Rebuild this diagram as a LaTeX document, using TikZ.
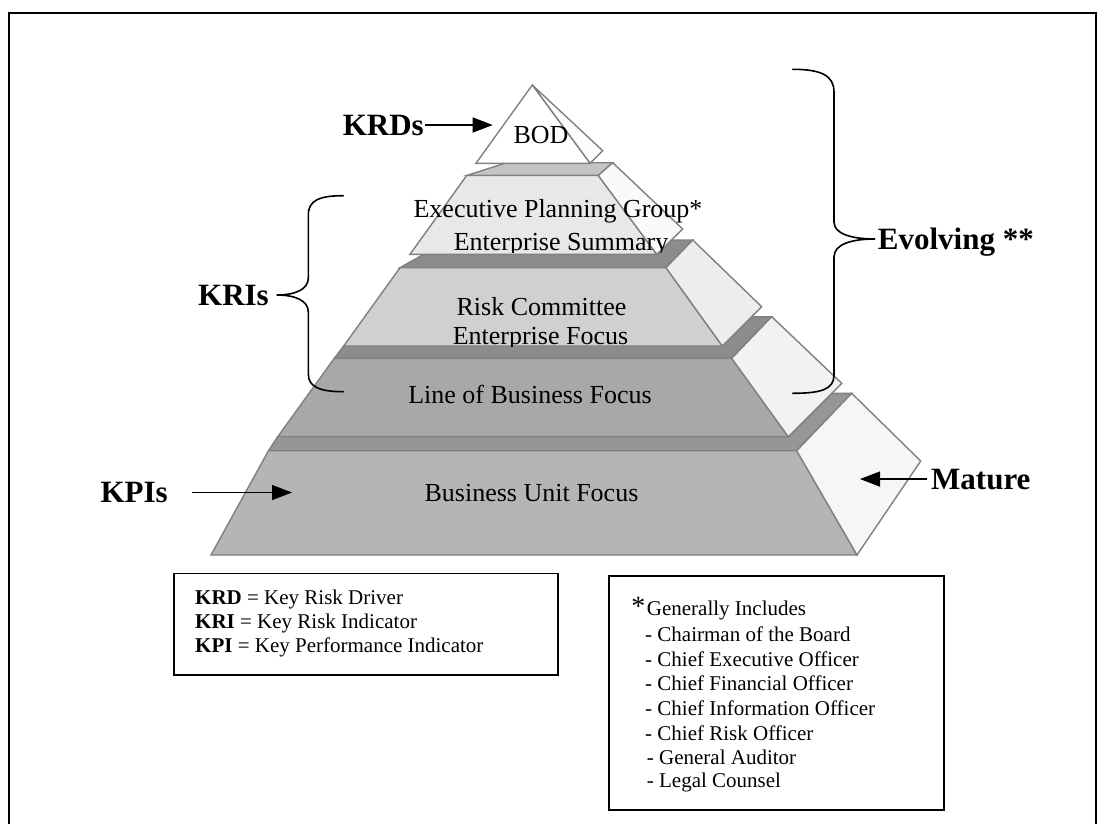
\documentclass[tikz,border=0pt]{standalone}
\usepackage{fontspec}
\setmainfont{Liberation Serif}
\usetikzlibrary{arrows.meta}
\definecolor{edgegray}{HTML}{808080}
\definecolor{fA}{HTML}{FFFFFF}
\definecolor{sA}{HTML}{FCFCFC}
\definecolor{fB}{HTML}{E8E8E8}
\definecolor{tB}{HTML}{C4C4C4}
\definecolor{sB}{HTML}{FAFAFA}
\definecolor{fC}{HTML}{D0D0D0}
\definecolor{tC}{HTML}{8C8C8C}
\definecolor{sC}{HTML}{EDEDED}
\definecolor{fD}{HTML}{A8A8A8}
\definecolor{tD}{HTML}{8C8C8C}
\definecolor{sD}{HTML}{F2F2F2}
\definecolor{fE}{HTML}{B5B5B5}
\definecolor{tE}{HTML}{969696}
\definecolor{sE}{HTML}{F6F6F6}
\begin{document}
\begin{tikzpicture}[x=1pt,y=-1pt,
  face/.style={draw=edgegray, line width=1.4pt, line join=miter},
  lbl/.style={font=\fontsize{31}{36}\selectfont\bfseries, inner sep=0pt},
  tiertext/.style={font=\fontsize{26}{30}\selectfont, inner sep=0pt, anchor=base},
  legendtext/.style={font=\fontsize{21}{24}\selectfont, inner sep=0pt, anchor=base west},
  pointer/.style={line width=1.5pt, -{Triangle[length=20pt,width=15pt]}},
  bracepath/.style={line width=1.6pt, line cap=round},
  legendbox/.style={draw=black, line width=1.6pt, inner sep=0pt, anchor=north west}]
\useasboundingbox (0,0) rectangle (1109,823);
\fill[white] (0,0) rectangle (1109,823);
% outer frame
\draw[line width=2pt] (9.3,835) -- (9.3,13.3) -- (1096,13.3) -- (1096,835);

% ---- tier 5 (Business Unit)
\filldraw[face, fill=tE] (268.5,450.7) -- (796.7,450.7) -- (851.7,393.3) -- (800,393.3) -- (300,420) -- (277.7,436.7) -- cycle;
\filldraw[face, fill=fE] (268.5,450.7) -- (796.7,450.7) -- (857,555) -- (211,555) -- cycle;
\filldraw[face, fill=sE] (796.7,450.7) -- (851.7,393.3) -- (920.7,461) -- (857,555) -- cycle;
\node[tiertext] (t5) at (531.5,501) {Business Unit Focus};

% ---- tier 4 (Line of Business)
\filldraw[face, fill=tD] (334.3,358.3) -- (731.7,358.3) -- (771.7,316.7) -- (740,316.7) -- (380,330) -- (343.7,346) -- cycle;
\filldraw[face, fill=fD] (334.3,358.3) -- (731.7,358.3) -- (788.3,436.7) -- (277.7,436.7) -- cycle;
\filldraw[face, fill=sD] (731.7,358.3) -- (771.7,316.7) -- (841.7,383.3) -- (788.3,436.7) -- cycle;
\node[tiertext] (t4) at (530,403) {Line of Business Focus};

% ---- tier 3 (Risk Committee)
\filldraw[face, fill=tC] (400,267.7) -- (666,267.7) -- (692.7,240) -- (640,240) -- (440,245) -- cycle;
\filldraw[face, fill=fC] (400,267.7) -- (666,267.7) -- (722.3,346) -- (343.7,346) -- cycle;
\filldraw[face, fill=sC] (666,267.7) -- (692.7,240) -- (761.7,306.7) -- (722.3,346) -- cycle;
\node[tiertext] (t3a) at (541.5,315.5) {Risk Committee};
\begin{scope}
  \clip (300,320) rectangle (800,346);
  \node[tiertext] (t3b) at (540.5,344.5) {Enterprise Focus};
\end{scope}

% ---- tier 2 (Executive Planning Group)
\filldraw[face, fill=tB] (466.7,175.5) -- (598.3,175.5) -- (612.7,162.7) -- (506.7,162.7) -- cycle;
\filldraw[face, fill=fB] (466.7,175.5) -- (598.3,175.5) -- (656.7,254.3) -- (410,254.3) -- cycle;
\filldraw[face, fill=sB] (598.3,175.5) -- (612.7,162.7) -- (682.7,229) -- (656.7,254.3) -- cycle;
\node[tiertext] (t2a) at (558,217) {Executive Planning Group*};
\begin{scope}
  \clip (380,222) rectangle (760,252);
  \node[tiertext] (t2b) at (561,250) {Enterprise Summary};
\end{scope}

% ---- tier 1 (BOD)
\filldraw[face, fill=sA] (532.3,85) -- (602.7,150.7) -- (590,163.3) -- cycle;
\filldraw[face, fill=fA] (532.3,85) -- (590,163.3) -- (476,163.3) -- cycle;
\node[tiertext] (t1) at (541,143.3) {BOD};

% ---- labels and arrows
\node[lbl, anchor=base east] (krd) at (424,135) {KRDs};
\coordinate (krdtip) at (492.7,126);
\draw[pointer] ([xshift=1pt]krd.east) -- (krd.east -| krdtip);

\node[lbl, anchor=base east] (kpi) at (168,502.5) {KPIs};
\coordinate (kpitip) at (292,492);
\draw[pointer] ([xshift=24pt]kpi.east) -- (kpi.east -| kpitip);

\node[lbl, anchor=base west] (mature) at (931,489) {Mature};
\coordinate (maturetip) at (860,478);
\draw[pointer] ([xshift=-4pt]mature.west) -- (mature.west -| maturetip);

% KRIs brace
\node[lbl, anchor=base east] (kri) at (269,305) {KRIs};
\coordinate (kriTop) at (343.3,195.7);
\coordinate (kriBot) at (343.3,391.7);
\coordinate (kriTip) at (276.7,295);
\draw[bracepath] (kriTop) .. controls (320,195.7) and (308.3,200) .. (308.3,215)
  -- (308.3,278) .. controls (308.3,289) and (296,295) .. (kriTip)
  .. controls (296,295) and (308.3,301) .. (308.3,312)
  -- (308.3,374) .. controls (308.3,387) and (320,391.7) .. (kriBot);

% Evolving brace
\node[lbl, anchor=base west] (evo) at (877.7,249.3) {Evolving **};
\coordinate (evoTop) at (792.7,69.3);
\coordinate (evoBot) at (792.7,393.3);
\coordinate (evoTip) at (875,239);
\draw[bracepath] (evoTop) .. controls (822,69.3) and (834,76) .. (834,92)
  -- (834,222) .. controls (834,234) and (852,239) .. (evoTip)
  .. controls (852,239) and (834,244) .. (834,257)
  -- (834,375) .. controls (834,389) and (822,393.3) .. (evoBot);

% ---- legend box 1
\node[legendbox, minimum width=383.7pt, minimum height=101.6pt] (leg1) at (173.3,572.7) {};
\node[legendtext] (l1a) at (195,604) {\textbf{KRD} = Key Risk Driver};
\node[legendtext] (l1b) at (195,628) {\textbf{KRI} = Key Risk Indicator};
\node[legendtext] (l1c) at (195,652) {\textbf{KPI} = Key Performance Indicator};

% ---- legend box 2
\node[legendbox, minimum width=335pt, minimum height=234pt] (leg2) at (608.3,575) {};
\node[legendtext, font=\fontsize{28}{30}\selectfont] (star) at (631.2,615) {*};
\node[legendtext] (l2a) at (646.7,615) {Generally Includes};
\node[legendtext] (l2b) at (645,641.7) {- Chairman of the Board};
\node[legendtext] (l2c) at (645,666.7) {- Chief Executive Officer};
\node[legendtext] (l2d) at (645,690.7) {- Chief Financial Officer};
\node[legendtext] (l2e) at (645,715) {- Chief Information Officer};
\node[legendtext] (l2f) at (645,740) {- Chief Risk Officer};
\node[legendtext] (l2g) at (646.7,764) {- General Auditor};
\node[legendtext] (l2h) at (646.7,787.7) {- Legal Counsel};
\end{tikzpicture}
\end{document}
